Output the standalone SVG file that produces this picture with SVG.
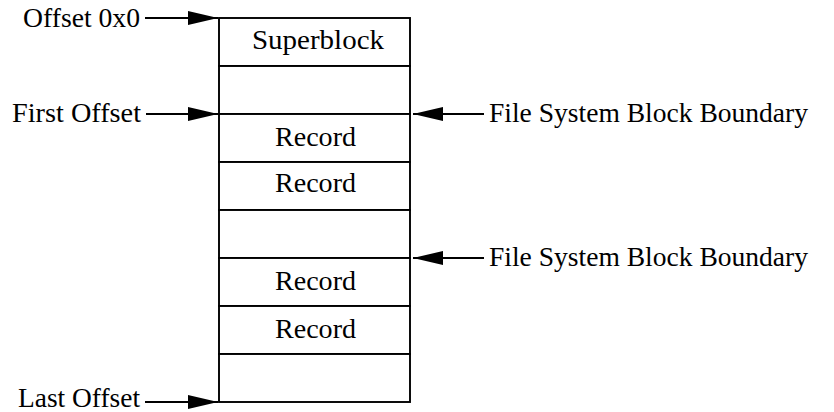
<svg xmlns="http://www.w3.org/2000/svg" width="834" height="412" viewBox="0 0 834 412">
<style>
text{font-family:"Liberation Serif","Times New Roman",serif;font-size:26.5px;fill:#000}
.box{fill:#fff;stroke:#000;stroke-width:1.9}
.c{stroke:#000;stroke-width:1.8;fill:none;marker-end:url(#ah)}
.m{text-anchor:middle}
.e{text-anchor:end}
</style>
<defs>
<marker id="ah" markerUnits="userSpaceOnUse" markerWidth="32" markerHeight="16" refX="30" refY="7" orient="auto">
<path d="M0,0 L30,7 L0,14 z" fill="#000"/>
</marker>
</defs>
<g id="blocks">
<g id="row-superblock"><rect class="box" x="219" y="18" width="191" height="48"/><text class="m" x="318" y="48.5" textLength="132" lengthAdjust="spacingAndGlyphs">Superblock</text></g>
<g id="row-empty1"><rect class="box" x="219" y="66" width="191" height="48"/></g>
<g id="row-record1"><rect class="box" x="219" y="114" width="191" height="48"/><text class="m" x="315.5" y="146" textLength="81" lengthAdjust="spacingAndGlyphs">Record</text></g>
<g id="row-record2"><rect class="box" x="219" y="162" width="191" height="48"/><text class="m" x="315.5" y="192" textLength="81" lengthAdjust="spacingAndGlyphs">Record</text></g>
<g id="row-empty2"><rect class="box" x="219" y="210" width="191" height="48"/></g>
<g id="row-record3"><rect class="box" x="219" y="258" width="191" height="48"/><text class="m" x="315.5" y="290" textLength="81" lengthAdjust="spacingAndGlyphs">Record</text></g>
<g id="row-record4"><rect class="box" x="219" y="306" width="191" height="48"/><text class="m" x="315.5" y="338" textLength="81" lengthAdjust="spacingAndGlyphs">Record</text></g>
<g id="row-empty3"><rect class="box" x="219" y="354" width="191" height="48"/></g>
</g>
<g id="labels">
<text id="lbl-offset0" class="e" x="140" y="26.5" textLength="117" lengthAdjust="spacingAndGlyphs">Offset 0x0</text>
<text id="lbl-first" class="e" x="141" y="122" textLength="129" lengthAdjust="spacingAndGlyphs">First Offset</text>
<text id="lbl-last" class="e" x="140" y="407" textLength="122" lengthAdjust="spacingAndGlyphs">Last Offset</text>
<text id="lbl-fsb1" x="489" y="122" textLength="319" lengthAdjust="spacingAndGlyphs">File System Block Boundary</text>
<text id="lbl-fsb2" x="489" y="266" textLength="319" lengthAdjust="spacingAndGlyphs">File System Block Boundary</text>
</g>
<g id="connectors">
<line class="c" x1="145" y1="18" x2="218" y2="18"/>
<line class="c" x1="146" y1="114" x2="218" y2="114"/>
<line class="c" x1="145" y1="402" x2="218" y2="402"/>
<line class="c" x1="484" y1="114" x2="413" y2="114"/>
<line class="c" x1="484" y1="258" x2="413" y2="258"/>
</g>
</svg>
